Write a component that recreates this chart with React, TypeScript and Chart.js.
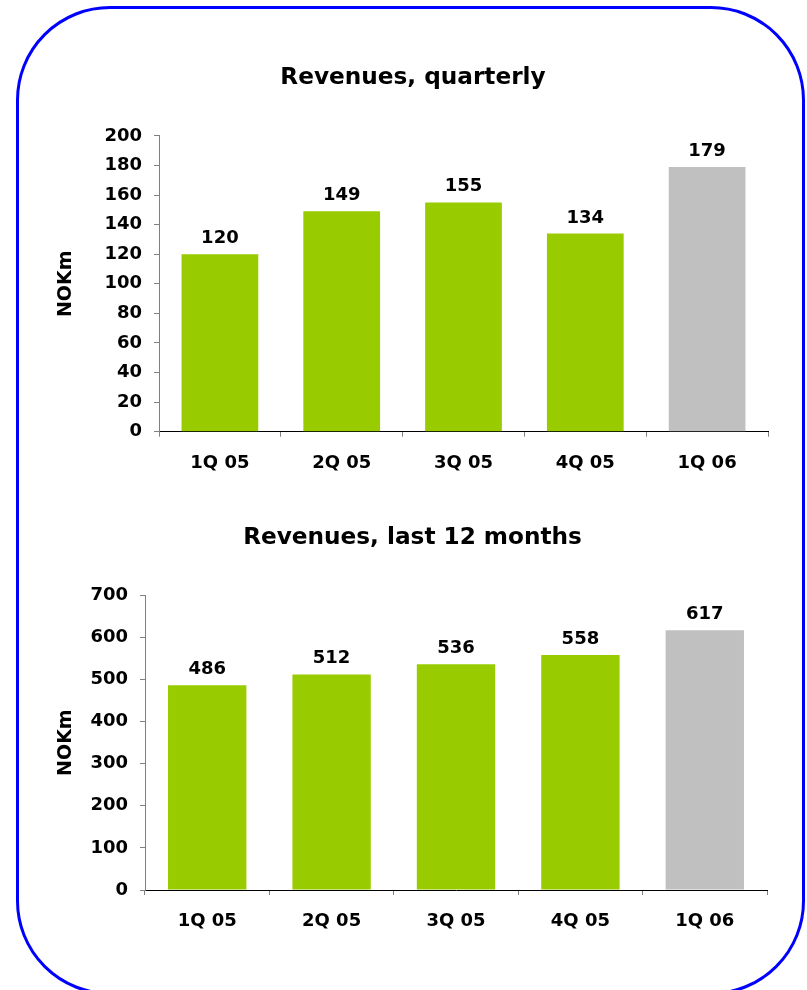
import React, { useEffect, useRef } from "react";
import { Chart, registerables } from "chart.js";

Chart.register(...registerables);

// Quarter labels shared by both panels
const quarters = ["1Q 05", "2Q 05", "3Q 05", "4Q 05", "1Q 06"];
// Revenues per quarter, NOKm
const quarterlyRevenue = [120, 149, 155, 134, 179];
// Revenues over the last 12 months, NOKm
const rollingRevenue = [486, 512, 536, 558, 617];
// Historic quarters in green, latest quarter in grey
const barColors = ["#99CC00", "#99CC00", "#99CC00", "#99CC00", "#C0C0C0"];

const FONT = "'DejaVu Sans', Verdana, sans-serif";

// Prints each bar's value just above it
const valueLabels = {
  id: "valueLabels",
  afterDatasetsDraw(chart: any) {
    const ctx = chart.ctx;
    const meta = chart.getDatasetMeta(0);
    const data = chart.data.datasets[0].data as number[];
    ctx.save();
    ctx.font = `bold 18px ${FONT}`;
    ctx.fillStyle = "#000";
    ctx.textAlign = "center";
    ctx.textBaseline = "alphabetic";
    meta.data.forEach((bar: any, i: number) => {
      ctx.fillText(String(data[i]), bar.x, bar.y - 11);
    });
    ctx.restore();
  },
};

interface PanelSpec {
  title: string;
  values: number[];
  max: number;
  step: number;
  padLeft: number;
  padRight: number;
  padBottom: number;
  yWidth: number;
  titleTop: number;
  titleBottom: number;
}

function buildConfig(p: PanelSpec): any {
  return {
    type: "bar",
    data: {
      labels: quarters,
      datasets: [
        {
          data: p.values,
          backgroundColor: barColors,
          borderWidth: 0,
          barPercentage: 0.63,
          categoryPercentage: 1,
        },
      ],
    },
    options: {
      responsive: false,
      animation: false,
      devicePixelRatio: 1,
      layout: {
        padding: { left: p.padLeft, right: p.padRight, top: 0, bottom: p.padBottom },
      },
      plugins: {
        legend: { display: false },
        tooltip: { enabled: false },
        title: {
          display: true,
          text: p.title,
          color: "#000",
          font: { family: FONT, size: 23.2, weight: "bold" },
          padding: { top: p.titleTop, bottom: p.titleBottom },
        },
      },
      scales: {
        x: {
          grid: {
            offset: true,
            drawOnChartArea: false,
            drawTicks: true,
            tickLength: 5,
            color: "#808080",
          },
          border: { display: true, color: "#000", width: 1 },
          ticks: {
            color: "#000",
            padding: 15.5,
            font: { family: FONT, size: 18, weight: "bold" },
          },
          afterFit(scale: any) {
            scale.height = 50;
          },
        },
        y: {
          min: 0,
          max: p.max,
          ticks: {
            stepSize: p.step,
            color: "#000",
            padding: 12,
            font: { family: FONT, size: 18, weight: "bold" },
          },
          grid: {
            drawOnChartArea: false,
            drawTicks: true,
            tickLength: 5,
            color: "#808080",
          },
          border: { display: true, color: "#808080", width: 1 },
          title: {
            display: true,
            text: "NOKm",
            color: "#000",
            font: { family: FONT, size: 19, weight: "bold" },
            padding: { top: -3.8, bottom: 0 },
          },
          afterFit(scale: any) {
            scale.width = p.yWidth;
          },
        },
      },
    },
    plugins: [valueLabels],
  };
}

function BarPanel({ spec, top, height }: { spec: PanelSpec; top: number; height: number }) {
  const ref = useRef<HTMLCanvasElement | null>(null);
  useEffect(() => {
    if (!ref.current) return;
    const chart = new Chart(ref.current, buildConfig(spec));
    return () => chart.destroy();
  }, [spec]);
  return (
    <canvas
      ref={ref}
      width={807}
      height={height}
      style={{ position: "absolute", left: 0, top, width: 807, height, display: "block" }}
    />
  );
}

const quarterlySpec: PanelSpec = {
  title: "Revenues, quarterly",
  values: quarterlyRevenue,
  max: 200,
  step: 20,
  padLeft: 58,
  padRight: 39,
  padBottom: 18.3,
  yWidth: 101,
  titleTop: 64.2,
  titleBottom: 43.9,
};

const rollingSpec: PanelSpec = {
  title: "Revenues, last 12 months",
  values: rollingRevenue,
  max: 700,
  step: 100,
  padLeft: 58,
  padRight: 40,
  padBottom: 50,
  yWidth: 87,
  titleTop: 24.5,
  titleBottom: 42.9,
};

export default function App() {
  return (
    <div
      style={{
        position: "fixed",
        left: 0,
        top: 0,
        width: 807,
        height: 990,
        overflow: "hidden",
        background: "#fff",
      }}
    >
      <div
        style={{
          position: "absolute",
          left: 16,
          top: 6,
          width: 789,
          height: 989,
          boxSizing: "border-box",
          border: "3px solid #0000FF",
          borderRadius: 94,
        }}
      />
      <BarPanel spec={quarterlySpec} top={0} height={500} />
      <BarPanel spec={rollingSpec} top={500} height={490} />
    </div>
  );
}
